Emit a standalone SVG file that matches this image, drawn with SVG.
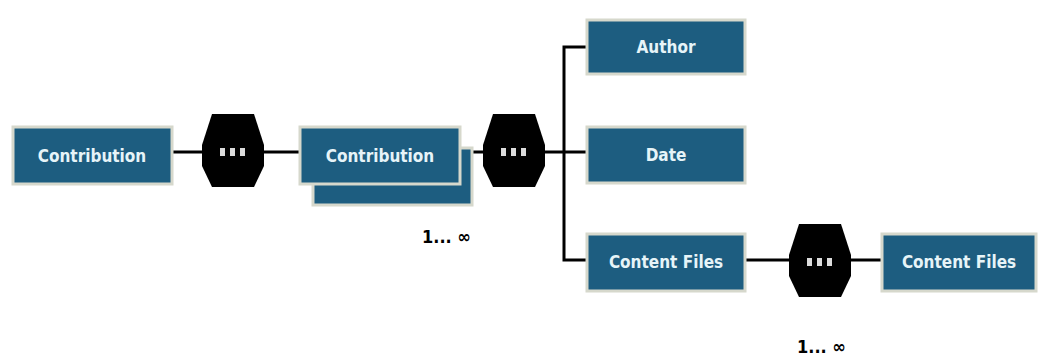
<svg xmlns="http://www.w3.org/2000/svg" width="1038" height="358" viewBox="0 0 1038 358">
  <style>
    .box { fill: #1d5d80; stroke: #d6d8cc; stroke-width: 3; }
    .lbl { font-family: "DejaVu Sans Condensed", "DejaVu Sans", sans-serif; font-weight: bold; font-size: 17px; fill: #e6f4f8; text-anchor: middle; }
    .conn { stroke: #000; stroke-width: 3; fill: none; }
    .hex { fill: #000; }
    .dot { fill: #dcdcdc; }
    .card { font-family: "DejaVu Sans Condensed", "DejaVu Sans", sans-serif; font-weight: bold; font-size: 18px; fill: #000; }
  </style>
  <defs>
    <!-- sequence compositor: black octagon with three dots -->
    <g id="seq">
      <polygon class="hex" points="-21,-38 21,-38 31,-7 31,14 21,35 -21,35 -31,14 -31,-7"/>
      <rect class="dot" x="-13" y="-4" width="5" height="8"/>
      <rect class="dot" x="-3" y="-4" width="5" height="8"/>
      <rect class="dot" x="7" y="-4" width="5" height="8"/>
    </g>
  </defs>

  <g id="connectors">
    <line class="conn" x1="172" y1="152" x2="300" y2="152"/>
    <line class="conn" x1="472" y1="152" x2="587" y2="152"/>
    <polyline class="conn" points="587,47 564,47 564,260 587,260"/>
    <line class="conn" x1="745" y1="260" x2="882" y2="260"/>
  </g>

  <g id="contribution-root">
    <rect class="box" x="13" y="127" width="159" height="57"/>
    <text class="lbl" x="92" y="162">Contribution</text>
  </g>

  <g id="seq-1"><use href="#seq" x="233" y="152"/></g>

  <g id="contribution-multi">
    <rect class="box" x="313" y="148" width="159" height="57"/>
    <rect class="box" x="300" y="127" width="160" height="57"/>
    <text class="lbl" x="380" y="162">Contribution</text>
    <text class="card" x="422" y="243">1... ∞</text>
  </g>

  <g id="seq-2"><use href="#seq" x="514" y="152"/></g>

  <g id="author">
    <rect class="box" x="587" y="20" width="158" height="54"/>
    <text class="lbl" x="666" y="53">Author</text>
  </g>

  <g id="date">
    <rect class="box" x="587" y="127" width="158" height="56"/>
    <text class="lbl" x="666" y="161">Date</text>
  </g>

  <g id="content-files">
    <rect class="box" x="587" y="234" width="158" height="57"/>
    <text class="lbl" x="666" y="268">Content Files</text>
  </g>

  <g id="seq-3"><use href="#seq" x="820" y="262"/></g>

  <g id="content-files-multi">
    <rect class="box" x="882" y="234" width="154" height="57"/>
    <text class="lbl" x="959" y="268">Content Files</text>
    <text class="card" x="797" y="353">1... ∞</text>
  </g>
</svg>
